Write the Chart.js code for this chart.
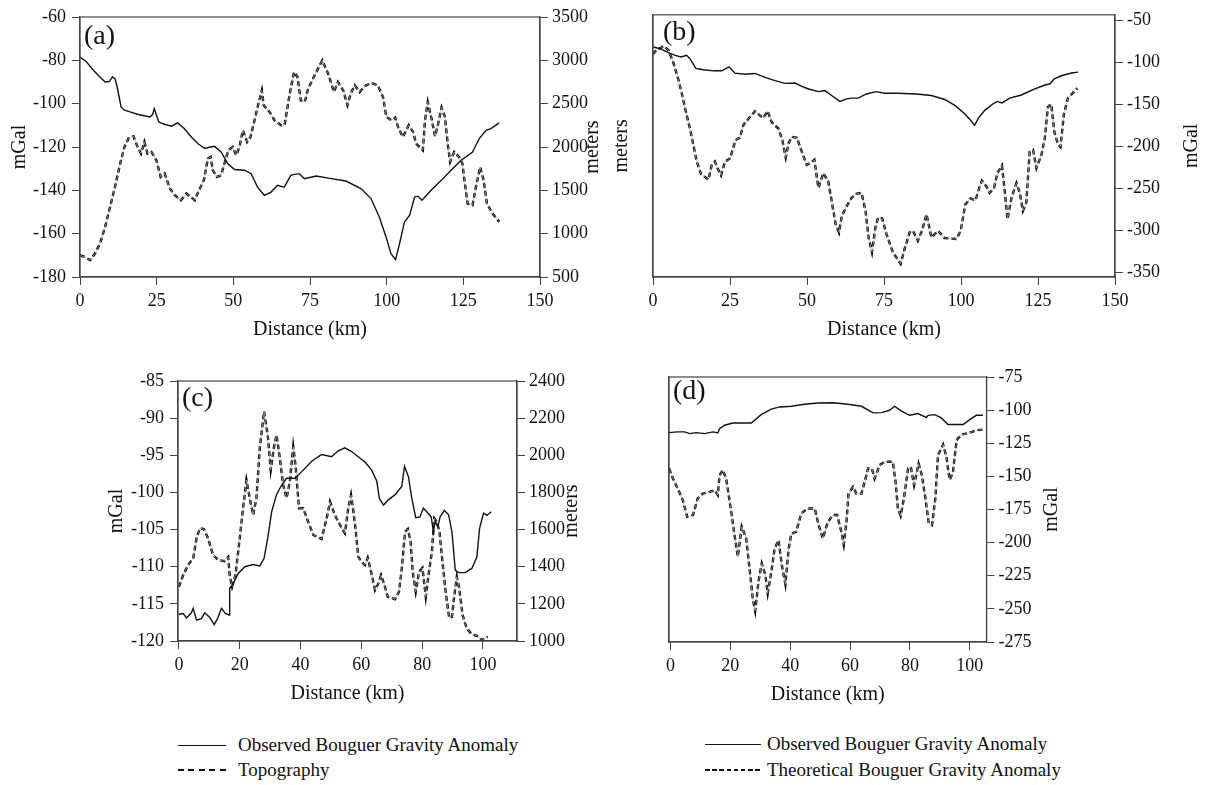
<!DOCTYPE html>
<html>
<head>
<meta charset="utf-8">
<script src="https://cdn.jsdelivr.net/npm/chart.js@4.4.0/dist/chart.umd.min.js"></script>
<style>
  body { margin: 0; background: #fff; width: 1207px; height: 785px; position: relative; overflow: hidden;
         font-family: "Liberation Serif", "Times New Roman", serif; color: #111; }
  .panel { position: absolute; }
  .lg-line { position: absolute; height: 0; }
  .lg-dash { position: absolute; height: 2px; }
  .lg-text { position: absolute; font-size: 19px; line-height: 22px; white-space: nowrap; }
</style>
</head>
<body>
<div class="panel" style="left:0px;top:0px;width:610px;height:342px"><canvas id="chartA"></canvas></div>
<div class="panel" style="left:610px;top:0px;width:597px;height:342px"><canvas id="chartB"></canvas></div>
<div class="panel" style="left:100px;top:360px;width:500px;height:346px"><canvas id="chartC"></canvas></div>
<div class="panel" style="left:600px;top:360px;width:500px;height:347px"><canvas id="chartD"></canvas></div>

<div class="lg-line" style="left:178px;top:745px;width:48px;border-top:1.4px solid #111"></div>
<div class="lg-text" style="left:238px;top:734px">Observed Bouguer Gravity Anomaly</div>
<div class="lg-dash" style="left:178px;top:769px;width:48px;background:repeating-linear-gradient(to right,#111 0 6px,transparent 6px 10.5px)"></div>
<div class="lg-text" style="left:238px;top:759px">Topography</div>

<div class="lg-line" style="left:705px;top:744px;width:56px;border-top:1.4px solid #111"></div>
<div class="lg-text" style="left:767px;top:733px">Observed Bouguer Gravity Anomaly</div>
<div class="lg-dash" style="left:705px;top:769px;width:56px;background:repeating-linear-gradient(to right,#111 0 4.5px,transparent 4.5px 7.2px)"></div>
<div class="lg-text" style="left:767px;top:759px">Theoretical Bouguer Gravity Anomaly</div>

<script>
// tick labels
const xTicksAB = [0, 25, 50, 75, 100, 125, 150];
const xTicksCD = [0, 20, 40, 60, 80, 100];
const aLeftTicks = [-180, -160, -140, -120, -100, -80, -60];
const aRightTicks = [500, 1000, 1500, 2000, 2500, 3000, 3500];
const bRightTicks = [-350, -300, -250, -200, -150, -100, -50];
const cLeftTicks = [-120, -115, -110, -105, -100, -95, -90, -85];
const cRightTicks = [1000, 1200, 1400, 1600, 1800, 2000, 2200, 2400];
const dRightTicks = [-275, -250, -225, -200, -175, -150, -125, -100, -75];

// (a) observed Bouguer anomaly (mGal) and topography (m)
const aObsKm = [0, 2, 4, 6, 8.2, 9.5, 10.6, 11.4, 12, 13.4, 14.5, 16.3, 19, 21, 22.8, 23.7, 24.2, 25.7, 27.5, 29.9,
  31.8, 34, 36.3, 38.5, 40.7, 42.5, 43.9, 46, 48.2, 50.4, 53.6, 55.8, 57.9, 60.1, 62.3, 64.4, 66.6, 68.8, 71.5, 73.2,
  77, 81.9, 86.7, 91.6, 94.9, 97.6, 99.8, 101.4, 102.9, 104.2, 105.8, 107.5, 109.1, 110.2, 111.5, 114.5, 117.8, 121,
  124.3, 128, 130.2, 132.4, 134, 136.7];
const aObsVal = [-78.5, -80.5, -84, -87, -90, -89.8, -87.7, -88.5, -91.5, -101.5, -103, -103.8, -105, -105.6, -106.1,
  -105, -102.3, -108.5, -109.5, -110.4, -108.9, -111.5, -115.4, -118.5, -120.7, -120, -119.7, -122.3, -127.7, -130.4,
  -130.7, -132.3, -138.5, -142.3, -140.8, -137.7, -138.5, -133, -132.3, -134.6, -133.4, -134.6, -135.7, -139.2, -143.8,
  -152.3, -161.5, -169.2, -172, -164.6, -154.6, -151.5, -143.1, -142.7, -144.6, -140, -135.4, -130.7, -126.1, -122.3,
  -116.1, -112.3, -111.5, -108.9];
const aTopoKm = [0, 1.6, 3.3, 4.9, 6.5, 8.2, 9.8, 11.4, 13.1, 14.5, 15.8, 17.4, 18.8, 19.9, 21, 22, 23.3, 24.9, 26.3,
  27.6, 29.3, 30.9, 32.9, 34.7, 36.1, 37.4, 38.8, 40.4, 41.7, 42.6, 43.3, 44.6, 46, 47.1, 48.4, 49.8, 50.9, 52, 53.1,
  54.5, 55.6, 56.9, 58.2, 59.3, 59.9, 61.8, 63.4, 65.6, 66.7, 68.4, 69.8, 70.9, 72, 73.3, 74.4, 76.5, 79, 80.9, 82.8,
  84.1, 85.8, 87.2, 88.3, 89.6, 91.2, 92.8, 95, 97.1, 98.8, 99.9, 101.5, 102.8, 103.9, 105.3, 107.2, 108.6, 109.6,
  111.8, 112.5, 113.4, 114.5, 115.8, 116.8, 117.9, 119, 119.9, 120.7, 122, 123.6, 124.7, 125.5, 126.4, 128, 129.1,
  130.5, 131.6, 132.7, 134.5, 136.7];
const aTopoVal = [751, 732, 694, 771, 886, 1078, 1309, 1539, 1809, 2001, 2098, 2124, 2001, 1924, 2058, 1924, 1943, 1847,
  1655, 1694, 1521, 1444, 1386, 1463, 1424, 1386, 1501, 1617, 1867, 1885, 1732, 1655, 1674, 1809, 1963, 2001, 1905,
  2001, 2193, 2058, 2116, 2309, 2501, 2655, 2482, 2404, 2309, 2251, 2251, 2617, 2866, 2808, 2539, 2520, 2674, 2827,
  3000, 2847, 2635, 2750, 2655, 2482, 2617, 2712, 2635, 2701, 2739, 2712, 2577, 2347, 2309, 2340, 2213, 2116, 2251,
  2174, 2040, 1963, 2309, 2520, 2347, 2124, 2270, 2455, 2347, 2040, 1828, 1943, 1885, 1809, 1578, 1348, 1328, 1539,
  1770, 1617, 1348, 1232, 1136];

// (b) observed and theoretical Bouguer anomaly (mGal)
const bObsKm = [0, 2.3, 5, 7.2, 9.1, 10.9, 12, 13.9, 16.4, 19.6, 22.3, 24.7, 26.6, 29.9, 33.1, 36.4, 39.6, 42.9, 46.1,
  48.3, 50.5, 53.7, 55.8, 58, 60.7, 62.9, 64.5, 66.6, 69.3, 72.5, 75.2, 79.5, 85.5, 90.4, 94.7, 98, 101.2, 103.1, 104.4,
  105.7, 107.7, 110.4, 111.8, 113.3, 115.8, 119.6, 123.4, 127.2, 128.8, 130.3, 132.8, 135.9, 138];
const bObsVal = [-82.1, -84.1, -88.8, -92, -93.9, -92, -95.9, -107.6, -109.2, -110.4, -110.4, -105.6, -113.2, -114.4,
  -113.5, -118.2, -122.1, -125.3, -124.9, -128.8, -132, -135.1, -133.9, -139.8, -146.8, -143.8, -142.9, -142.9, -137.9,
  -135.1, -137.1, -137.1, -137.9, -139.8, -144.5, -151.5, -161.4, -169.2, -175.1, -166.5, -157.4, -149.6, -146.8,
  -148.5, -142.9, -139.1, -132.7, -127.3, -126.1, -120, -116, -113, -112];
const bTheoKm = [0, 0.8, 1.7, 3.4, 5, 6.6, 8.2, 9.5, 10.7, 12, 13.1, 14.2, 15.6, 18, 19.1, 20.1, 21, 22.1, 23.4, 25,
  26.8, 28.2, 29.3, 31, 33.1, 34.7, 35.8, 37.2, 38.5, 40.7, 42, 43.1, 44, 45, 46.7, 48.3, 49.9, 51, 52.4, 53.7, 55.3,
  56.9, 58.2, 59.3, 60.4, 61.3, 62.9, 64.5, 66, 67.7, 69, 70, 71.1, 72.2, 73.1, 74.4, 75.8, 77.9, 80.4, 81.7, 83.3,
  84.4, 86, 87.3, 88.8, 90.4, 92.5, 94.7, 98.5, 99.9, 101.4, 103.1, 104.7, 106.1, 106.8, 108.2, 109.3, 110.7, 111.8,
  113.3, 114.2, 115.1, 116.4, 118, 119.1, 120.1, 121.2, 122.3, 123.4, 124.5, 126.1, 127.2, 128.2, 129.3, 130.3, 131.5,
  132.3, 133.4, 134.7, 136.5, 137.8];
const bTheoVal = [-90.8, -87, -84.9, -81, -85.7, -100.6, -120.2, -139.8, -159.4, -179, -198.6, -218.2, -233.2, -239.8,
  -222.1, -218.2, -226.1, -234.7, -218.2, -214.4, -192.7, -190, -175.1, -167.3, -158.6, -163.3, -166.5, -158.2, -171.2,
  -179, -192.7, -213.5, -196.7, -188.8, -190, -206.5, -222.1, -220.2, -216.2, -249.6, -232, -241.8, -269.2, -292.7,
  -302.6, -282.9, -271.2, -261.4, -256.7, -255.5, -277, -308.5, -326.1, -296.7, -284.9, -285.7, -304.5, -326.1, -339.8,
  -322.1, -302.6, -300.6, -312.4, -300.6, -280.9, -308.5, -300.6, -309.2, -310.4, -300.6, -269.2, -262.1, -264.5,
  -247.6, -241, -247.6, -255.5, -249.6, -232, -222.9, -253.5, -286.8, -261.4, -243.8, -255.5, -277, -267.3, -206.5,
  -204.5, -226.1, -210.4, -190.8, -153.5, -150, -183, -198, -201, -162, -143, -136, -131];

// (c) observed Bouguer anomaly (mGal) and topography (m)
const cObsKm = [0, 1.4, 2.5, 4.1, 4.7, 5.8, 7.4, 8.5, 10.1, 11.6, 12.7, 14, 15.3, 16.5, 16.7, 17.8, 19.5, 21.7, 24.4,
  26.6, 28, 29.2, 30.5, 32.1, 33.8, 35.4, 38.2, 40.4, 43.7, 46.9, 50.2, 52.4, 54.6, 56.8, 59.6, 61.2, 63.4, 65.1, 65.9,
  67.3, 68.9, 71.1, 73.3, 74.2, 75.5, 76.6, 77.9, 79.3, 80.4, 81.5, 83, 83.7, 84.3, 85.2, 85.9, 87.3, 88.7, 89.8, 90.9,
  92, 94.2, 96.4, 98, 98.9, 100.2, 101.3, 102.7];
const cObsVal = [-116.4, -116.3, -116.9, -116.2, -115.6, -117.2, -117, -116.2, -116.8, -117.8, -117, -115.6, -116.3,
  -116.5, -112.9, -112.3, -110.9, -110, -109.7, -109.9, -108.9, -106.2, -102.6, -100.3, -99, -98.1, -98.1, -97.2, -95.8,
  -94.9, -95.2, -94.4, -94, -94.5, -95.4, -95.9, -97, -98.5, -100.8, -101.7, -101, -100.3, -99.2, -96.5, -97.9, -100.8,
  -103.4, -103.3, -102.1, -102.6, -103.3, -105.3, -103.9, -104.6, -103.3, -102.4, -103, -105.3, -110.5, -110.8, -110.8,
  -110.2, -108.7, -104.8, -102.8, -103.1, -102.6];
const cTopoKm = [0, 1.4, 3, 4.7, 5.8, 6.9, 8.2, 9.6, 11.2, 12.9, 14.9, 16.2, 16.7, 17.5, 18.6, 20, 21.1, 22.2, 23.3,
  24.4, 25.5, 26.6, 28, 29.2, 30.2, 31.3, 32.1, 33.2, 34.3, 35.4, 36.5, 37.6, 38.4, 39.5, 40.9, 42.5, 44.2, 46.9, 48.6,
  49.7, 51.3, 53.3, 54.6, 55.7, 56.6, 57.4, 58.2, 59, 60.1, 61.2, 62.1, 63.2, 64.5, 65.6, 66.5, 67.6, 68.7, 71.1, 72.4,
  73.3, 74.4, 75.3, 76.2, 76.9, 77.9, 79, 80.1, 81.2, 82.1, 83.2, 84, 84.8, 85.7, 86.7, 87.6, 88.9, 89.8, 90.6, 91.4,
  92.2, 93.3, 94.7, 96.4, 98.6, 99.7, 100.8, 101.6];
const cTopoVal = [1292, 1355, 1409, 1445, 1553, 1607, 1603, 1553, 1463, 1436, 1430, 1453, 1355, 1292, 1355, 1553, 1715,
  1867, 1769, 1678, 1769, 2038, 2236, 2110, 1921, 2047, 2110, 1984, 1840, 1769, 1858, 2047, 1939, 1715, 1715, 1642,
  1571, 1549, 1661, 1750, 1678, 1615, 1580, 1715, 1786, 1696, 1588, 1453, 1426, 1409, 1448, 1373, 1274, 1310, 1355,
  1301, 1238, 1225, 1265, 1391, 1588, 1603, 1534, 1373, 1265, 1373, 1394, 1238, 1355, 1480, 1661, 1642, 1588, 1426,
  1283, 1124, 1130, 1247, 1346, 1283, 1139, 1067, 1035, 1025, 1004, 1016, 1022];

// (d) observed and theoretical Bouguer anomaly (mGal)
const dObsKm = [-0.5, 2.4, 4.7, 6.4, 8.6, 11.4, 14.2, 15.8, 16.4, 18.1, 20.8, 27, 30.3, 33.7, 36.5, 40.4, 44.8, 49.3,
  54.3, 59.3, 63.8, 67.7, 70.5, 73.2, 74.9, 77.2, 79.9, 82.7, 85.5, 86.1, 88.3, 90.5, 92.7, 97.8, 100, 102.2, 104.4];
const dObsVal = [-117, -116.4, -116.4, -117.7, -117, -117.7, -116.4, -117.2, -114, -111.4, -109.7, -109.7, -103.4, -99.3,
  -97.6, -97.1, -95.6, -94.6, -94.4, -95.6, -97.1, -102.1, -101.9, -100.1, -97.1, -100.8, -103.9, -102.6, -105.6,
  -103.9, -103.4, -105.9, -110.9, -110.9, -107.2, -103.9, -103.9];
const dTheoKm = [-0.5, 0.8, 2.4, 4.1, 5.6, 7.5, 9.1, 10.8, 13, 14.7, 15.8, 16.4, 17.5, 18.6, 20.3, 21.4, 22.5, 23.8,
  25.3, 26.4, 27.5, 28.3, 29.4, 30.5, 31.7, 32.5, 33.7, 34.8, 36.1, 37.2, 38.4, 39.5, 40.4, 42, 43.7, 45.9, 48.2, 49.5,
  50.9, 52.6, 54.3, 55.7, 57.1, 57.9, 58.8, 59.5, 61, 62.1, 63.8, 64.9, 66, 67.3, 68.2, 69.9, 71.6, 74.3, 75.2, 76,
  76.9, 78, 79.4, 80.3, 81.4, 82.9, 84, 85.2, 86.3, 87.4, 88.5, 89.4, 91.1, 92.2, 93.3, 94.4, 95.6, 97.2, 100, 102.2,
  104.4];
const dTheoVal = [-144.1, -151.6, -159.2, -167.9, -180.5, -179.2, -166.7, -163, -161.7, -160.4, -164.1, -149.1, -145.3,
  -151.6, -176.7, -194.3, -210.6, -188, -196.8, -219.5, -242.1, -251.6, -229.5, -215.7, -224.4, -238.3, -222, -204.4,
  -198.1, -216.9, -231.5, -204.4, -193.1, -191.8, -178, -174.2, -174.2, -186.8, -196.8, -184.3, -179.2, -179.2, -191.8,
  -201.4, -184.3, -163, -157.9, -163, -163, -154.1, -144.1, -144.1, -151.6, -141.5, -139, -139, -154.1, -174.2, -179.7,
  -166.7, -144.1, -142.8, -156.6, -140.3, -149.1, -166.7, -185.5, -186.8, -166.7, -134, -126, -135.3, -152.8, -146.6,
  -122.7, -118.5, -117, -115.2, -114.7];

const FONT = '"Liberation Serif", "Times New Roman", serif';
const INK = '#111';
const AXIS = '#444';

function pts(xs, ys) {
  return xs.map((x, i) => ({ x: x, y: ys[i] }));
}

// solid line, plus dashed line drawn over a faint grey trace
function solid(xs, ys, axis) {
  return { data: pts(xs, ys), yAxisID: axis, borderColor: INK, borderWidth: 1.4, pointRadius: 0, tension: 0 };
}
function dashed(xs, ys, axis) {
  return [
    { data: pts(xs, ys), yAxisID: axis, borderColor: '#b4b4b4', borderWidth: 0.7, pointRadius: 0, tension: 0 },
    { data: pts(xs, ys), yAxisID: axis, borderColor: '#000', borderWidth: 2.4, borderDash: [5, 3], pointRadius: 0, tension: 0 }
  ];
}

function fixedTicks(list) {
  return function (scale) { scale.ticks = list.map(v => ({ value: v })); };
}
function plain(v) { return String(v); }

function xAxis(min, max, ticks) {
  return {
    type: 'linear', min: min, max: max,
    afterBuildTicks: fixedTicks(ticks),
    afterFit: function (s) { s.height = 65; },
    grid: { drawOnChartArea: false, drawTicks: true, tickLength: 8, color: AXIS },
    border: { color: AXIS, width: 1.2 },
    ticks: { color: INK, font: { family: FONT, size: 18 }, padding: 5, maxRotation: 0, autoSkip: false, callback: plain },
    title: { display: true, text: 'Distance (km)', color: INK, font: { family: FONT, size: 20 }, padding: { top: 0, bottom: 0 } }
  };
}

function yAxis(pos, width, min, max, ticks, title, titlePad) {
  const hasTicks = ticks.length > 0;
  return {
    type: 'linear', position: pos, min: min, max: max,
    afterBuildTicks: fixedTicks(ticks),
    afterFit: function (s) { s.width = width; },
    grid: { drawOnChartArea: false, drawTicks: hasTicks, tickLength: 8, color: AXIS },
    border: { color: AXIS, width: 1.2 },
    ticks: { display: hasTicks, color: INK, font: { family: FONT, size: 18 }, padding: pos === 'left' ? 6 : 4, callback: plain },
    title: { display: !!title, text: title || '', color: INK, font: { family: FONT, size: 20 }, padding: { top: titlePad || 0, bottom: 0 } }
  };
}

// box round the plot, panel letter and a right-hand title read bottom to top
const panelDeco = {
  id: 'panelDeco',
  afterDraw(chart, args, o) {
    const ctx = chart.ctx;
    const a = chart.chartArea;
    ctx.save();
    ctx.strokeStyle = AXIS;
    ctx.lineWidth = 1.2;
    ctx.strokeRect(a.left, a.top, a.right - a.left, a.bottom - a.top);
    ctx.fillStyle = INK;
    ctx.font = '28px ' + FONT;
    ctx.textAlign = 'left';
    ctx.textBaseline = 'middle';
    ctx.fillText(o.letter, a.left + o.lx, a.top + o.ly);
    if (o.rightTitle) {
      ctx.font = '20px ' + FONT;
      ctx.translate(o.rx, (a.top + a.bottom) / 2);
      ctx.rotate(-Math.PI / 2);
      ctx.textAlign = 'center';
      ctx.fillText(o.rightTitle, 0, 0);
    }
    ctx.restore();
  }
};

function makeChart(id, datasets, scales, padTop, deco) {
  return new Chart(document.getElementById(id), {
    type: 'line',
    data: { datasets: datasets },
    options: {
      responsive: true,
      maintainAspectRatio: false,
      animation: false,
      layout: { padding: { top: padTop, left: 0, right: 0, bottom: 0 } },
      plugins: { legend: { display: false }, tooltip: { enabled: false }, panelDeco: deco },
      scales: scales
    },
    plugins: [panelDeco]
  });
}

makeChart('chartA',
  [solid(aObsKm, aObsVal, 'yL')].concat(dashed(aTopoKm, aTopoVal, 'yR')),
  {
    x: xAxis(0, 150, xTicksAB),
    yL: yAxis('left', 80, -180, -60, aLeftTicks, 'mGal', 8),
    yR: yAxis('right', 70, 500, 3500, aRightTicks)
  }, 17, { letter: '(a)', lx: 4, ly: 20, rightTitle: 'meters', rx: 593 });

makeChart('chartB',
  [solid(bObsKm, bObsVal, 'yR')].concat(dashed(bTheoKm, bTheoVal, 'yR')),
  {
    x: xAxis(0, 150, xTicksAB),
    yL: yAxis('left', 43, 0, 1, [], 'meters', 0),
    yR: yAxis('right', 92, -355.5, -43.8, bRightTicks)
  }, 12, { letter: '(b)', lx: 10, ly: 18, rightTitle: 'mGal', rx: 582 });

makeChart('chartC',
  [solid(cObsKm, cObsVal, 'yL')].concat(dashed(cTopoKm, cTopoVal, 'yR')),
  {
    x: xAxis(-0.3, 111.2, xTicksCD),
    yL: yAxis('left', 78, -120, -85, cLeftTicks, 'mGal', 5),
    yR: yAxis('right', 83, 1000, 2400, cRightTicks)
  }, 21, { letter: '(c)', lx: 4, ly: 18, rightTitle: 'meters', rx: 472 });

makeChart('chartD',
  [solid(dObsKm, dObsVal, 'yR')].concat(dashed(dTheoKm, dTheoVal, 'yR')),
  {
    x: xAxis(-0.5, 105.6, xTicksCD),
    yL: yAxis('left', 69, 0, 1, []),
    yR: yAxis('right', 113.5, -275, -75, dRightTicks)
  }, 17, { letter: '(d)', lx: 4, ly: 15, rightTitle: 'mGal', rx: 452 });
</script>
</body>
</html>
